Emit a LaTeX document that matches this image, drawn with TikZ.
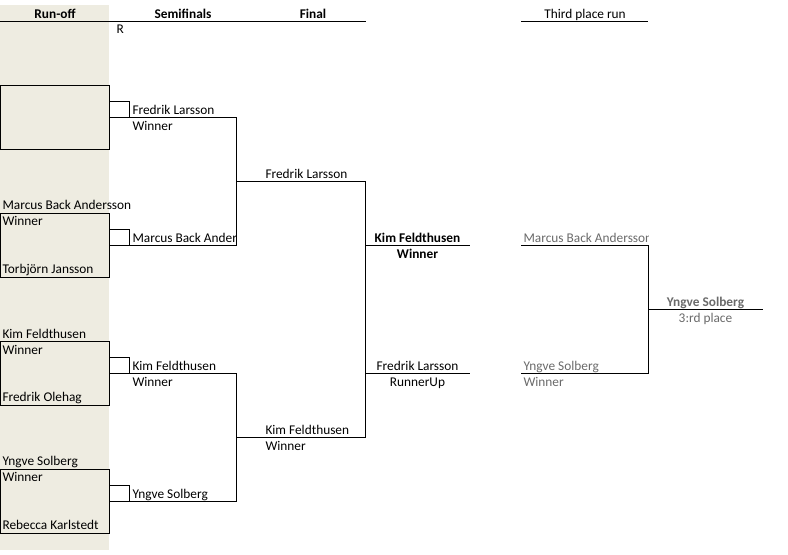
\documentclass[tikz,border=0pt]{standalone}
\usepackage{fontspec}
\setmainfont{Carlito}
\definecolor{runtan}{HTML}{EEECE1}
\definecolor{thirdgrey}{HTML}{6A6A6A}

\begin{document}
\begin{tikzpicture}
  [x=0.75pt,y=-0.75pt,line width=0.75pt,
   every node/.style={inner sep=0pt,font=\fontsize{10}{12}\selectfont},
   runbox/.style={draw,minimum width=81.75pt,minimum height=48pt},
   lbl/.style={anchor=base west},
   clbl/.style={anchor=base},
   head/.style={anchor=base,font=\fontsize{10}{12}\selectfont\bfseries},
   third/.style={text=thirdgrey}]
  \useasboundingbox (0,0) rectangle (788,554);
  \fill[runtan] (0,5) rectangle (109,550);

  % headings
  \node[head] (hrun) at (55,18) {Run-off};
  \node[head] (hsemi) at (183,18) {Semifinals};
  \node[head] (hfinal) at (313,18) {Final};
  \node[clbl] (hthird) at (585,18) {Third place run};
  \draw (0,21.5) -- (366,21.5);
  \draw (521,21.5) -- (648,21.5);
  \node[lbl] (rmark) at (116,33) {R};

  % run-off boxes
  \node[runbox] (r1) at (54.5,117) {};
  \node[runbox] (r2) at (54.5,245) {};
  \node[runbox] (r3) at (54.5,373) {};
  \node[runbox] (r4) at (54.5,501) {};

  \node[lbl] (r2a) at (2,209) {Marcus Back Andersson};
  \node[lbl] (r2w) at (2,225) {Winner};
  \node[lbl] (r2b) at (2,273) {Torbjörn Jansson};
  \node[lbl] (r3a) at (2,338) {Kim Feldthusen};
  \node[lbl] (r3w) at (2,354) {Winner};
  \node[lbl] (r3b) at (2,401) {Fredrik Olehag};
  \node[lbl] (r4a) at (2,465) {Yngve Solberg};
  \node[lbl] (r4w) at (2,481) {Winner};
  \node[lbl] (r4b) at (2,529) {Rebecca Karlstedt};

  % bracket corners
  \coordinate (s1) at (236,117);
  \coordinate (s2) at (236,245);
  \coordinate (s3) at (236,373);
  \coordinate (s4) at (236,501);
  \coordinate (sm1) at (236,181);
  \coordinate (sm2) at (236,437);
  \coordinate (f1) at (365,181);
  \coordinate (f2) at (365,437);
  \coordinate (w1) at (470,245);
  \coordinate (w2) at (470,373);
  \coordinate (t1) at (521,245);
  \coordinate (t2) at (521,373);
  \coordinate (tc) at (648,309);
  \coordinate (t3) at (763,309);

  \foreach \b in {r1,r2,r3,r4}
    \draw (\b.east) ++(0,-16) -- ++(20,0) -- ++(0,16);

  \draw (r1.east) -- (s1) -- (s2) -- (r2.east);
  \draw (r3.east) -- (s3) -- (s4) -- (r4.east);
  \draw (sm1) -- (f1) -- (f2) -- (sm2);
  \draw (f1 |- w1) -- (w1);
  \draw (f1 |- w2) -- (w2);
  \draw (t1) -| (tc) |- (t2);
  \draw (tc) -- (t3);

  % semifinals
  \node[lbl] (s1n) at (132,114) {Fredrik Larsson};
  \node[lbl] (s1w) at (132,130) {Winner};
  \begin{scope}
    \clip (120,225) rectangle (236,250);
    \node[lbl] (s2n) at (132,242) {Marcus Back Andersson};
  \end{scope}
  \node[lbl] (s3n) at (132,370) {Kim Feldthusen};
  \node[lbl] (s3w) at (132,386) {Winner};
  \node[lbl] (s4n) at (132,498) {Yngve Solberg};

  % final
  \node[lbl] (f1n) at (265,178) {Fredrik Larsson};
  \node[lbl] (f2n) at (265,434) {Kim Feldthusen};
  \node[lbl] (f2w) at (265,450) {Winner};
  \node[head] (w1n) at (417.5,242) {Kim Feldthusen};
  \node[head] (w1w) at (417.5,258) {Winner};
  \node[clbl] (w2n) at (417.5,370) {Fredrik Larsson};
  \node[clbl] (w2w) at (417.5,386) {RunnerUp};

  % third place
  \begin{scope}
    \clip (515,225) rectangle (648,250);
    \node[lbl,third] (t1n) at (523,242) {Marcus Back Andersson};
  \end{scope}
  \node[lbl,third] (t2n) at (523,370) {Yngve Solberg};
  \node[lbl,third] (t2w) at (523,386) {Winner};
  \node[head,third] (t3n) at (705.5,306) {Yngve Solberg};
  \node[clbl,third] (t3w) at (705.5,322) {3:rd place};
\end{tikzpicture}
\end{document}
